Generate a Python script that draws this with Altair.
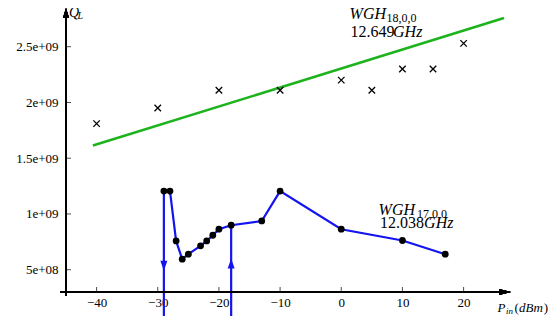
import altair as alt
import pandas as pd

# ---------------- data ----------------
# WGH 18,0,0 (12.649 GHz) measured Q_L (crosses)
wgh18_pin = [-40, -30, -20, -10, 0, 5, 10, 15, 20]
wgh18_ql = [1.81e9, 1.95e9, 2.11e9, 2.11e9, 2.20e9, 2.11e9, 2.30e9, 2.30e9, 2.53e9]

# linear trend through WGH 18,0,0
trend_pin = [-40.6, 26.6]
trend_ql = [1.613e9, 2.757e9]

# WGH 17,0,0 (12.038 GHz) Q_L (dots + line)
wgh17_pin = [-29, -28, -27, -26, -25, -23, -22, -21, -20, -18, -13, -10, 0, 10, 17]
wgh17_ql = [1.205e9, 1.205e9, 7.58e8, 5.94e8, 6.39e8, 7.14e8, 7.58e8, 8.09e8,
            8.63e8, 8.99e8, 9.37e8, 1.205e9, 8.63e8, 7.62e8, 6.39e8]

# hysteresis jumps (blue vertical arrows)
jump_pin = [-29, -18]
jump_top = [1.205e9, 8.99e8]
jump_bottom = [5e7, 5e7]
jump_tip = [4.9e8, 6.0e8]
jump_dir = ["down", "up"]

x_ticks = [-40, -30, -20, -10, 0, 10, 20]
y_ticks = [5e8, 1e9, 1.5e9, 2e9, 2.5e9]
y_tick_labels = ["5e+08", "1e+09", "1.5e+09", "2e+09", "2.5e+09"]

# annotation pieces: text, x (dBm), y (Q_L), font size
italic_text = ["WGH", "GHz", "WGH", "GHz", "Q", "L", "P", "in", "dBm"]
italic_x = [1.36, 8.47, 6.1, 13.54, -44.5, -43.1, 25.55, 26.94, 29.07]
italic_y = [2.746e9, 2.59e9, 0.987e9, 0.872e9, 2.765e9, 2.746e9, 1.23e8, 1.05e8, 1.23e8]
italic_fs = [16, 16, 16, 16, 14, 10, 13, 9, 13]

upright_text = ["18,0,0", "12.649", "17,0,0", "12.038", "(", ")"]
upright_x = [7.41, 1.52, 12.39, 6.34, 28.33, 33.1]
upright_y = [2.72e9, 2.59e9, 0.962e9, 0.872e9, 1.23e8, 1.23e8]
upright_fs = [12, 16, 12, 16, 13, 13]

# ---------------- chart ----------------
W, H = 445, 284
FONT = "Liberation Serif"
GREEN = "#1db31d"
BLUE = "#1414f0"

xs = alt.Scale(domain=[-45, 27.75], nice=False, zero=False)
ys = alt.Scale(domain=[3e8, 3e8 + H / 111.5 * 1e9], nice=False, zero=False)

label_expr = " : ".join(
    f"datum.value == {v:.0f} ? '{l}'" for v, l in zip(y_ticks, y_tick_labels)
) + " : ''"

xaxis = alt.Axis(values=x_ticks, format="d", domain=False, ticks=False, tickSize=0,
                 grid=False, labelFont=FONT, labelFontSize=13, labelColor="black",
                 labelPadding=4, title=None)
yaxis = alt.Axis(values=y_ticks, labelExpr=label_expr, domain=False, ticks=False,
                 tickSize=0, grid=False, labelFont=FONT, labelFontSize=13,
                 labelColor="black", labelPadding=8, title=None)


def X(f):
    return alt.X(f, type="quantitative", scale=xs, axis=xaxis, title=None)


def Y(f):
    return alt.Y(f, type="quantitative", scale=ys, axis=yaxis, title=None)


df18 = pd.DataFrame({"pin": wgh18_pin, "ql": wgh18_ql})
dtrend = pd.DataFrame({"pin": trend_pin, "ql": trend_ql})
df17 = pd.DataFrame({"pin": wgh17_pin, "ql": wgh17_ql, "o": list(range(len(wgh17_pin)))})
djump = pd.DataFrame({"pin": jump_pin, "top": jump_top, "bot": jump_bottom,
                      "tip": jump_tip, "dir": jump_dir})
dxt = pd.DataFrame({"v": x_ticks})
dyt = pd.DataFrame({"v": y_ticks})
dit = pd.DataFrame({"t": italic_text, "x": italic_x, "y": italic_y, "fs": italic_fs})
dut = pd.DataFrame({"t": upright_text, "x": upright_x, "y": upright_y, "fs": upright_fs})

trend = alt.Chart(dtrend).mark_line(color=GREEN, strokeWidth=2.6).encode(
    x=X("pin"), y=Y("ql"))

crosses = alt.Chart(df18).mark_point(
    shape="M-1,-1L1,1M-1,1L1,-1", size=42, filled=False, color="black",
    strokeWidth=1.3, opacity=1).encode(x=X("pin"), y=Y("ql"))

jumps = alt.Chart(djump).mark_rule(color=BLUE, strokeWidth=2.2).encode(
    x=X("pin"), y=Y("top"), y2=alt.Y2("bot"))

down_head = alt.Chart(djump).transform_filter(alt.datum.dir == "down").mark_point(
    shape="M0,0L-0.7,-2L0.7,-2Z", size=100, filled=True, color=BLUE, opacity=1
).encode(x=X("pin"), y=Y("tip"))
up_head = alt.Chart(djump).transform_filter(alt.datum.dir == "up").mark_point(
    shape="M0,0L-0.7,2L0.7,2Z", size=100, filled=True, color=BLUE, opacity=1
).encode(x=X("pin"), y=Y("tip"))

line17 = alt.Chart(df17).mark_line(color=BLUE, strokeWidth=2.2).encode(
    x=X("pin"), y=Y("ql"), order="o:Q")
dots17 = alt.Chart(df17).mark_point(
    shape="circle", size=46, filled=True, color="black", opacity=1).encode(
    x=X("pin"), y=Y("ql"))

# axes drawn as arrows
x_line = alt.Chart(dxt).mark_rule(color="black", strokeWidth=1.2).encode(
    x=alt.value(-6), x2=alt.value(W - 4), y=alt.value(H))
y_line = alt.Chart(dxt).mark_rule(color="black", strokeWidth=1.2).encode(
    x=alt.value(0), y=alt.value(H + 4), y2=alt.value(4))
x_arrow = alt.Chart(dxt).mark_point(
    shape="M0,0L-2,-0.5L-2,0.5Z", size=144, filled=True, color="black", opacity=1
).encode(x=alt.value(W), y=alt.value(H))
y_arrow = alt.Chart(dxt).mark_point(
    shape="M0,0L-0.6,2L0.6,2Z", size=100, filled=True, color="black", opacity=1
).encode(x=alt.value(0), y=alt.value(0))

x_ticks_m = alt.Chart(dxt).mark_tick(orient="vertical", size=5, thickness=1,
                                     color="black").encode(
    x=X("v"), y=alt.value(H - 2.5))
y_ticks_m = alt.Chart(dyt).mark_tick(orient="horizontal", size=5, thickness=1,
                                     color="black").encode(
    y=Y("v"), x=alt.value(2.5))

it_text = alt.Chart(dit).mark_text(
    align="left", baseline="alphabetic", font=FONT, fontStyle="italic",
    color="black").encode(x=X("x"), y=Y("y"), text="t:N",
                          size=alt.Size("fs:Q", scale=None))
up_text = alt.Chart(dut).mark_text(
    align="left", baseline="alphabetic", font=FONT, color="black").encode(
    x=X("x"), y=Y("y"), text="t:N", size=alt.Size("fs:Q", scale=None))

chart = alt.layer(
    trend, crosses, jumps, line17, dots17, down_head, up_head,
    x_line, y_line, x_arrow, y_arrow, x_ticks_m, y_ticks_m, it_text, up_text
).properties(
    width=W, height=H,
    autosize=alt.AutoSizeParams(type="none"),
    padding={"left": 58, "top": 0, "right": 41, "bottom": 24},
    background="white",
).configure_view(stroke=None)

chart.save("out.html", embed_options={"renderer": "svg", "actions": False})
